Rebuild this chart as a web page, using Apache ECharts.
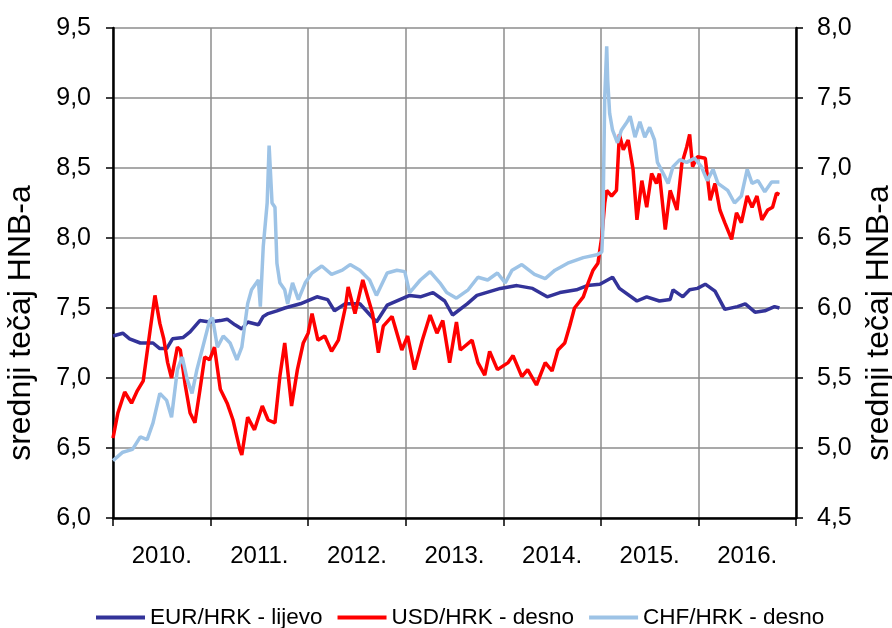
<!DOCTYPE html>
<html>
<head>
<meta charset="utf-8">
<script src="https://cdn.jsdelivr.net/npm/echarts@6/dist/echarts.min.js"></script>
<style>
html, body { margin: 0; padding: 0; background: #fff; }
#tecaj { width: 892px; height: 628px; }
</style>
</head>
<body>
<div id="tecaj"></div>
<script>
// godine na osi x
var godine = ['2010.', '2011.', '2012.', '2013.', '2014.', '2015.', '2016.'];

// EUR/HRK - lijeva os
var eurT = [2010.00, 2010.10, 2010.17, 2010.28, 2010.41, 2010.48, 2010.55, 2010.61, 2010.72, 2010.79, 2010.89, 2010.99,
    2011.10, 2011.17, 2011.25, 2011.32, 2011.38, 2011.49, 2011.54, 2011.59, 2011.68, 2011.76, 2011.92,
    2012.09, 2012.20, 2012.27, 2012.38, 2012.53, 2012.70, 2012.81, 2012.94,
    2013.04, 2013.15, 2013.28, 2013.40, 2013.48, 2013.63, 2013.73, 2013.97,
    2014.14, 2014.30, 2014.45, 2014.58, 2014.75, 2014.86, 2014.99,
    2015.12, 2015.19, 2015.37, 2015.47, 2015.60, 2015.71, 2015.74, 2015.84, 2015.91, 2015.99,
    2016.07, 2016.17, 2016.27, 2016.40, 2016.48, 2016.58, 2016.68, 2016.78, 2016.83];
var eurV = [7.30, 7.32, 7.28, 7.25, 7.25, 7.21, 7.21, 7.28, 7.29, 7.33, 7.41, 7.40,
    7.41, 7.42, 7.38, 7.35, 7.40, 7.38, 7.44, 7.46, 7.48, 7.50, 7.53,
    7.58, 7.56, 7.48, 7.53, 7.53, 7.40, 7.52, 7.56,
    7.59, 7.58, 7.61, 7.55, 7.45, 7.53, 7.59, 7.64,
    7.66, 7.64, 7.58, 7.61, 7.63, 7.66, 7.67,
    7.72, 7.64, 7.55, 7.58, 7.55, 7.56, 7.63, 7.58, 7.63, 7.64,
    7.67, 7.62, 7.49, 7.51, 7.53, 7.47, 7.48, 7.51, 7.50];

// USD/HRK - desna os
var usdT = [2010.00, 2010.05, 2010.12, 2010.19, 2010.25, 2010.31, 2010.38, 2010.43, 2010.48, 2010.52, 2010.56, 2010.60,
    2010.66, 2010.69, 2010.74, 2010.79, 2010.84, 2010.89, 2010.94, 2010.99,
    2011.04, 2011.10, 2011.17, 2011.23, 2011.30, 2011.32, 2011.38, 2011.45, 2011.53, 2011.59, 2011.66, 2011.71,
    2011.76, 2011.83, 2011.89, 2011.95,
    2012.00, 2012.04, 2012.10, 2012.17, 2012.24, 2012.31, 2012.38, 2012.41, 2012.48, 2012.56, 2012.66, 2012.72,
    2012.77, 2012.86, 2012.96,
    2013.02, 2013.09, 2013.17, 2013.25, 2013.32, 2013.38, 2013.45, 2013.52, 2013.56, 2013.68, 2013.74, 2013.81,
    2013.86, 2013.94,
    2014.05, 2014.10, 2014.19, 2014.25, 2014.34, 2014.43, 2014.50, 2014.56, 2014.63, 2014.68, 2014.73, 2014.82,
    2014.87, 2014.92, 2014.97,
    2015.01, 2015.04, 2015.06, 2015.11, 2015.16, 2015.19, 2015.23, 2015.28, 2015.33, 2015.37, 2015.42, 2015.47,
    2015.52, 2015.57, 2015.60, 2015.66, 2015.71, 2015.78, 2015.83, 2015.88, 2015.91, 2015.94, 2015.99,
    2016.07, 2016.12, 2016.17, 2016.22, 2016.27, 2016.34, 2016.39, 2016.44, 2016.50, 2016.55, 2016.60, 2016.65,
    2016.71, 2016.76, 2016.80, 2016.83];
var usdV = [5.07, 5.25, 5.40, 5.32, 5.41, 5.48, 5.84, 6.09, 5.89, 5.78, 5.61, 5.50,
    5.72, 5.70, 5.45, 5.25, 5.18, 5.41, 5.65, 5.63,
    5.72, 5.42, 5.32, 5.20, 4.99, 4.95, 5.22, 5.13, 5.30, 5.20, 5.18, 5.51,
    5.75, 5.30, 5.56, 5.75,
    5.82, 5.96, 5.77, 5.80, 5.69, 5.77, 6.00, 6.15, 5.96, 6.20, 5.96, 5.68,
    5.87, 5.94, 5.70,
    5.80, 5.56, 5.77, 5.95, 5.82, 5.91, 5.61, 5.90, 5.70, 5.77, 5.61, 5.52,
    5.69, 5.56,
    5.61, 5.66, 5.51, 5.56, 5.45, 5.61, 5.55, 5.70, 5.75, 5.87, 6.00, 6.08,
    6.18, 6.27, 6.32,
    6.51, 6.75, 6.84, 6.80, 6.84, 7.24, 7.13, 7.20, 6.99, 6.63, 6.91, 6.72,
    6.96, 6.89, 6.96, 6.56, 6.84, 6.70, 7.03, 7.15, 7.24, 7.01, 7.08,
    7.07, 6.77, 6.89, 6.70, 6.61, 6.49, 6.68, 6.61, 6.80, 6.72, 6.80, 6.63,
    6.70, 6.72, 6.82, 6.81];

// CHF/HRK - desna os
var chfT = [2010.00, 2010.10, 2010.20, 2010.28, 2010.35, 2010.41, 2010.48, 2010.55, 2010.60, 2010.66, 2010.71, 2010.76,
    2010.81, 2010.86, 2010.92, 2010.99,
    2011.02, 2011.07, 2011.13, 2011.20, 2011.27, 2011.32, 2011.38, 2011.42, 2011.49, 2011.51, 2011.54, 2011.58,
    2011.60, 2011.63, 2011.66, 2011.68, 2011.71, 2011.76, 2011.79, 2011.84, 2011.90, 2011.97,
    2012.04, 2012.14, 2012.24, 2012.35, 2012.43, 2012.53, 2012.63, 2012.70, 2012.81, 2012.91, 2012.99,
    2013.04, 2013.15, 2013.25, 2013.35, 2013.42, 2013.52, 2013.64, 2013.74, 2013.84, 2013.94,
    2014.02, 2014.09, 2014.19, 2014.32, 2014.43, 2014.53, 2014.66, 2014.82, 2014.96,
    2015.01, 2015.02, 2015.04, 2015.06, 2015.07, 2015.09, 2015.12, 2015.17, 2015.21, 2015.27, 2015.30, 2015.35,
    2015.40, 2015.45, 2015.50, 2015.55, 2015.58, 2015.64, 2015.69, 2015.74, 2015.81, 2015.88, 2015.96,
    2016.03, 2016.09, 2016.15, 2016.20, 2016.30, 2016.37, 2016.44, 2016.50, 2016.55, 2016.61, 2016.68, 2016.75,
    2016.83];
var chfV = [4.91, 4.97, 4.99, 5.08, 5.06, 5.18, 5.39, 5.34, 5.22, 5.56, 5.65, 5.49,
    5.39, 5.56, 5.72, 5.91,
    5.93, 5.72, 5.80, 5.75, 5.63, 5.72, 6.03, 6.13, 6.20, 6.01, 6.44, 6.75,
    7.16, 6.75, 6.72, 6.32, 6.18, 6.13, 6.03, 6.18, 6.06, 6.18,
    6.25, 6.30, 6.24, 6.27, 6.31, 6.27, 6.20, 6.09, 6.25, 6.27, 6.26,
    6.11, 6.20, 6.26, 6.18, 6.11, 6.07, 6.13, 6.22, 6.20, 6.25,
    6.18, 6.27, 6.31, 6.24, 6.21, 6.27, 6.32, 6.36, 6.38,
    6.40, 6.56, 7.51, 7.87, 7.63, 7.39, 7.27, 7.18, 7.27, 7.33, 7.37, 7.22,
    7.33, 7.22, 7.29, 7.20, 7.04, 6.96, 6.89, 7.01, 7.06, 7.04, 7.07,
    7.01, 6.91, 6.99, 6.89, 6.84, 6.75, 6.80, 6.99, 6.89, 6.91, 6.83, 6.90,
    6.90];

function parovi(t, v) {
    return t.map(function (x, i) { return [x, v[i]]; });
}

function zarez(v) {
    return v.toFixed(1).replace('.', ',');
}

var font = 'Liberation Sans, Arial, sans-serif';

var option = {
    animation: false,
    backgroundColor: '#fff',
    textStyle: { fontFamily: font, color: '#000' },
    grid: { left: 113, right: 96, top: 28, bottom: 110, containLabel: false, outerBoundsMode: 'none' },
    legend: {
        left: 91,
        top: 601,
        icon: 'rect',
        itemWidth: 49,
        itemHeight: 4,
        itemGap: 15,
        textStyle: { fontFamily: font, fontSize: 22.5, color: '#000' },
        data: ['EUR/HRK - lijevo', 'USD/HRK - desno', 'CHF/HRK - desno']
    },
    xAxis: [
        {
            type: 'category',
            data: godine,
            boundaryGap: true,
            axisLine: { lineStyle: { color: '#000', width: 2.5 } },
            axisTick: { show: true, inside: false, length: 8, lineStyle: { color: '#000', width: 1.5 } },
            axisLabel: { fontSize: 24, color: '#000', margin: 26, fontFamily: font },
            splitLine: { show: true, lineStyle: { color: '#8c8c8c', width: 1.5 } }
        },
        {
            type: 'value',
            min: 2010,
            max: 2017,
            show: false
        }
    ],
    yAxis: [
        {
            type: 'value',
            position: 'left',
            min: 6,
            max: 9.5,
            interval: 0.5,
            name: 'srednji tečaj HNB-a',
            nameLocation: 'middle',
            nameRotate: 90,
            nameGap: 76,
            nameTextStyle: { fontSize: 32, color: '#000', fontFamily: font, padding: [0, 100, 0, 0] },
            axisLine: { show: true, lineStyle: { color: '#000', width: 2.5 } },
            axisTick: { show: true, length: 7, lineStyle: { color: '#000', width: 1.5 } },
            axisLabel: { fontSize: 25, color: '#000', margin: 22, formatter: zarez, fontFamily: font },
            splitLine: { show: true, lineStyle: { color: '#8c8c8c', width: 1.5 } }
        },
        {
            type: 'value',
            position: 'right',
            min: 4.5,
            max: 8,
            interval: 0.5,
            name: 'srednji tečaj HNB-a',
            nameLocation: 'middle',
            nameRotate: 90,
            nameGap: 67,
            nameTextStyle: { fontSize: 32, color: '#000', fontFamily: font, padding: [0, 100, 0, 0] },
            axisLine: { show: true, lineStyle: { color: '#000', width: 2.5 } },
            axisTick: { show: true, length: 7, lineStyle: { color: '#000', width: 1.5 } },
            axisLabel: { fontSize: 25, color: '#000', margin: 21, formatter: zarez, fontFamily: font },
            splitLine: { show: false }
        }
    ],
    series: [
        {
            name: 'EUR/HRK - lijevo',
            type: 'line',
            xAxisIndex: 1,
            yAxisIndex: 0,
            showSymbol: false,
            symbol: 'none',
            color: '#333399',
            lineStyle: { width: 3.5, color: '#333399' },
            data: parovi(eurT, eurV)
        },
        {
            name: 'USD/HRK - desno',
            type: 'line',
            xAxisIndex: 1,
            yAxisIndex: 1,
            showSymbol: false,
            symbol: 'none',
            color: '#ff0000',
            lineStyle: { width: 3.5, color: '#ff0000' },
            data: parovi(usdT, usdV)
        },
        {
            name: 'CHF/HRK - desno',
            type: 'line',
            xAxisIndex: 1,
            yAxisIndex: 1,
            showSymbol: false,
            symbol: 'none',
            color: '#9dc3e6',
            lineStyle: { width: 3.5, color: '#9dc3e6' },
            data: parovi(chfT, chfV)
        }
    ]
};

var myChart = echarts.init(document.getElementById('tecaj'), null, { renderer: 'canvas' });
myChart.setOption(option);
</script>
</body>
</html>
